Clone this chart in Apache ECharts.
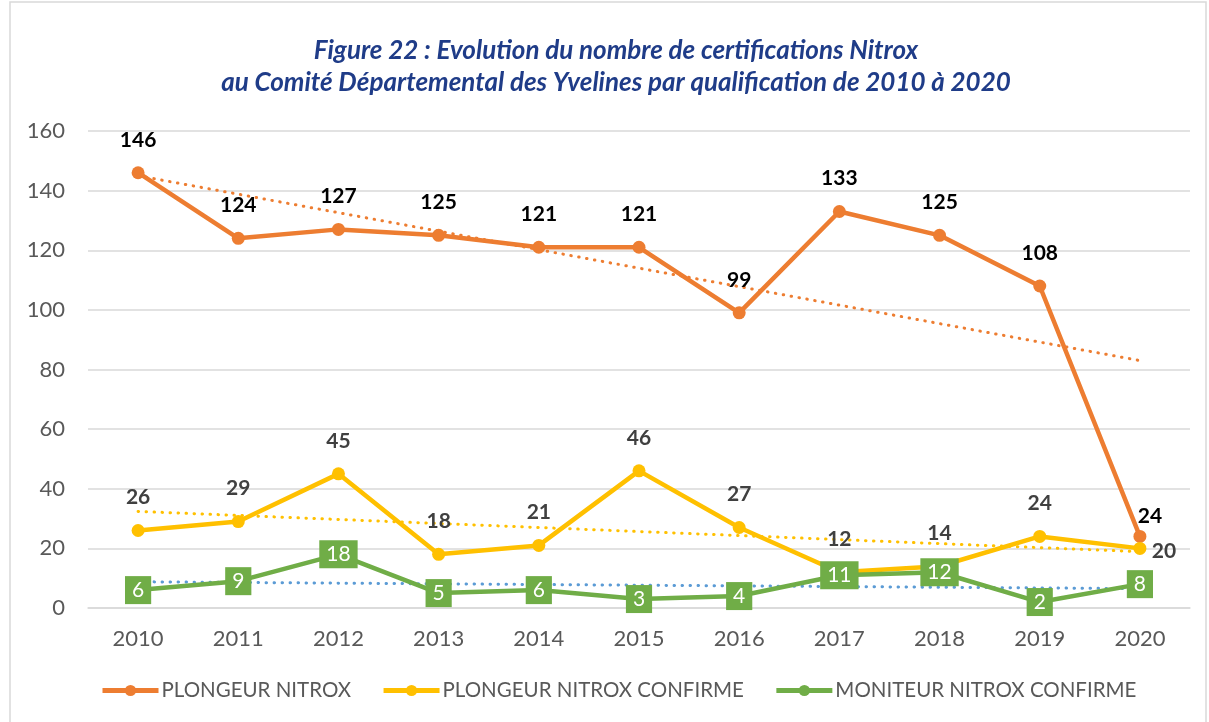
<!DOCTYPE html>
<html>
<head>
<meta charset="utf-8">
<script src="https://cdn.jsdelivr.net/npm/echarts@6/dist/echarts.min.js"></script>
<style>
html, body { margin: 0; padding: 0; background: #fff; }
#chart { width: 1209px; height: 722px; }
</style>
</head>
<body>
<div id="chart"></div>
<script>
var years = ['2010', '2011', '2012', '2013', '2014', '2015', '2016', '2017', '2018', '2019', '2020'];
var plongeurNitrox = [146, 124, 127, 125, 121, 121, 99, 133, 125, 108, 24];
var plongeurConfirme = [26, 29, 45, 18, 21, 46, 27, 12, 14, 24, 20];
var moniteurConfirme = [6, 9, 18, 5, 6, 3, 4, 11, 12, 2, 8];
// tendances (debut 2010, fin 2020)
var trendNitrox = [145, 83];
var trendConfirme = [32.4, 18.9];
var trendMoniteur = [8.8, 6.5];

var FONT = 'Lato';
var chart = echarts.init(document.getElementById('chart'));

function trend(name, vals, color) {
	return {
		name: name,
		type: 'line',
		data: [[years[0], vals[0]], [years[years.length - 1], vals[1]]],
		symbol: 'none',
		silent: true,
		z: 1,
		lineStyle: { color: color, width: 3, type: [0.5, 7.5], cap: 'round' }
	};
}

var option = {
	animation: false,
	textStyle: { fontFamily: FONT },
	title: {
		text: 'Figure 22 : Evolution du nombre de certifications Nitrox\nau Comité Départemental des Yvelines par qualification de 2010 à 2020',
		left: 611,
		textAlign: 'center',
		top: 30,
		textStyle: {
			fontFamily: FONT, fontSize: 26, fontWeight: 'bold', fontStyle: 'italic',
			color: '#1F3C88', lineHeight: 32
		}
	},
	graphic: [{
		type: 'rect',
		shape: { x: 10, y: 2, width: 1196, height: 740 },
		style: { fill: 'none', stroke: '#D9D9D9', lineWidth: 1.5 },
		silent: true
	}],
	legend: {
		bottom: 16,
		left: 95,
		itemWidth: 56,
		itemHeight: 14,
		itemGap: 30,
		lineStyle: { width: 5 },
		data: ['PLONGEUR NITROX', 'PLONGEUR NITROX CONFIRME', 'MONITEUR NITROX CONFIRME'],
		textStyle: { fontFamily: FONT, fontSize: 20.5, color: '#595959', padding: [0, 0, 0, -2] }
	},
	grid: { left: 88, right: 19, top: 131, bottom: 114 },
	xAxis: {
		type: 'category',
		data: years,
		axisLine: { lineStyle: { color: '#D9D9D9', width: 1.5 } },
		axisTick: { show: false },
		axisLabel: { fontFamily: FONT, fontSize: 22, color: '#595959', margin: 20 }
	},
	yAxis: {
		type: 'value',
		min: 0,
		max: 160,
		interval: 20,
		axisLine: { show: false },
		axisTick: { show: false },
		splitLine: { lineStyle: { color: '#D9D9D9', width: 1.5 } },
		axisLabel: { fontFamily: FONT, fontSize: 22, color: '#595959', margin: 23 }
	},
	series: [
		trend('t1', trendNitrox, '#ED7D31'),
		trend('t2', trendConfirme, '#FFC000'),
		trend('t3', trendMoniteur, '#5B9BD5'),
		{
			name: 'PLONGEUR NITROX',
			type: 'line',
			data: plongeurNitrox,
			z: 3,
			symbol: 'circle',
			symbolSize: 13,
			itemStyle: { color: '#ED7D31' },
			lineStyle: { width: 4.5, color: '#ED7D31' },
			label: {
				show: true, position: 'top', distance: 16,
				fontFamily: FONT, fontSize: 21, fontWeight: 'bold', color: '#000'
			},
			labelLayout: function (p) {
				if (p.dataIndex === years.length - 1) {
					return { dx: 10, dy: 13 };
				}
			}
		},
		{
			name: 'PLONGEUR NITROX CONFIRME',
			type: 'line',
			data: plongeurConfirme,
			z: 4,
			symbol: 'circle',
			symbolSize: 13,
			itemStyle: { color: '#FFC000' },
			lineStyle: { width: 4.5, color: '#FFC000' },
			label: {
				show: true, position: 'top', distance: 16,
				fontFamily: FONT, fontSize: 21, fontWeight: 'bold', color: '#404040'
			},
			labelLayout: function (p) {
				if (p.dataIndex === years.length - 1) {
					return { dx: 24, dy: 36 };
				}
			}
		},
		{
			name: 'MONITEUR NITROX CONFIRME',
			type: 'line',
			data: moniteurConfirme,
			z: 5,
			symbol: 'circle',
			symbolSize: 13,
			itemStyle: { color: '#70AD47' },
			lineStyle: { width: 4.5, color: '#70AD47' },
			label: {
				show: true, position: 'inside',
				fontFamily: FONT, fontSize: 21, color: '#fff',
				backgroundColor: '#70AD47',
				padding: [4, 7, 3, 7]
			}
		}
	]
};

chart.setOption(option);
</script>
</body>
</html>
